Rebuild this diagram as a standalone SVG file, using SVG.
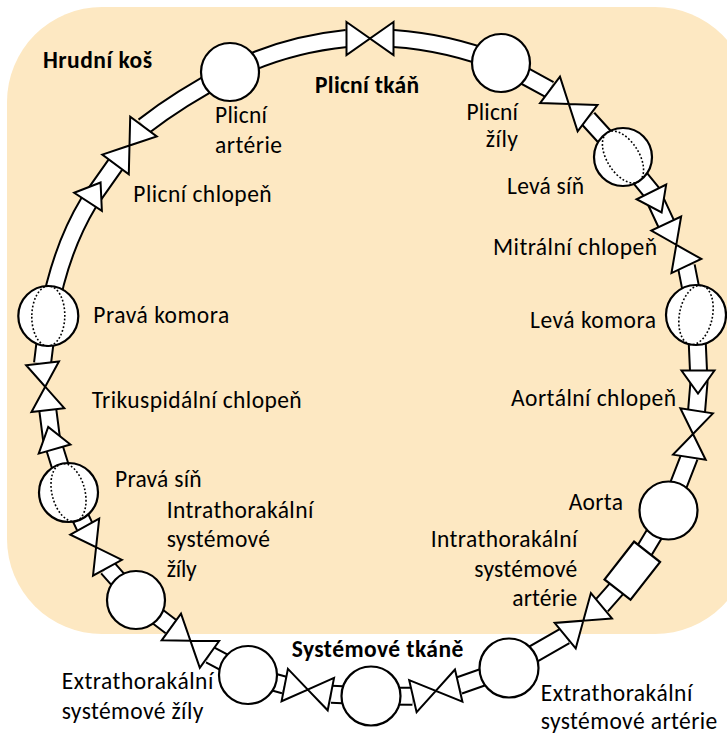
<svg xmlns="http://www.w3.org/2000/svg" width="727" height="734" viewBox="0 0 727 734">
<defs>
<style>
.bg{fill:#FDE8C2}
.po{fill:none;stroke:#000;stroke-width:19;stroke-linejoin:round}
.pi{fill:none;stroke:#fff;stroke-width:15;stroke-linejoin:round}
.n{fill:#fff;stroke:#000;stroke-width:2.2}
.dot{fill:none;stroke:#000;stroke-width:1.6;stroke-dasharray:1.8 2}
text{font-family:Carlito,Calibri,Lato,sans-serif;font-size:23.5px;fill:#000}
.b{font-weight:bold}
.e{text-anchor:end}
.m{text-anchor:middle}
</style>
<path id="bowtie" fill="#fff" stroke="#000" stroke-width="2" d="M-23.5,-16.5 L0,0 L-23.5,16.5 Z M23.5,-16.5 L0,0 L23.5,16.5 Z"/>
<path id="tri" fill="#fff" stroke="#000" stroke-width="2" d="M-11.5,-16.5 L11.5,0 L-11.5,16.5 Z"/>
</defs>
<rect class="bg" x="7" y="7" width="743" height="627" rx="95"/>
<text class="b" x="43" y="68" textLength="109">Hrudní koš</text>
<text class="b m" x="367" y="93" textLength="104">Plicní tkáň</text>
<text class="b m" x="377.5" y="656.7" textLength="171.6">Systémové tkáně</text>
<g id="connectors">
<path class="po" d="M143.7,126.3 Q180,98 230,72 Q283,45 346.5,38.5"/>
<path class="po" d="M393.5,38.5 Q447,42 501,63 L549.5,89.5"/>
<path class="po" d="M588,118.5 L623,157 L651.3,191.7 L666.2,223.7"/>
<path class="po" d="M686.3,266 L696,315 L699,382 L696.5,411.7"/>
<path class="po" d="M689.5,456.5 L668.5,510.5 L632.3,570.7 L601.5,605.7"/>
<path class="po" d="M565.2,635.7 L509,668 L459.2,685.5"/>
<path class="po" d="M412.5,696.3 L371,696 L331.3,694.2"/>
<path class="po" d="M284.2,685 L248,675 L210,654.8"/>
<path class="po" d="M170.8,626.5 L136,600 L107.5,567.8"/>
<path class="po" d="M84.7,526.5 L68.5,492.5 L51.4,438 L47.8,410"/>
<path class="po" d="M42.5,363.3 L48.3,316 Q60,250 88.7,202.5 L115.3,164.7"/>
<path class="pi" d="M143.7,126.3 Q180,98 230,72 Q283,45 346.5,38.5"/>
<path class="pi" d="M393.5,38.5 Q447,42 501,63 L549.5,89.5"/>
<path class="pi" d="M588,118.5 L623,157 L651.3,191.7 L666.2,223.7"/>
<path class="pi" d="M686.3,266 L696,315 L699,382 L696.5,411.7"/>
<path class="pi" d="M689.5,456.5 L668.5,510.5 L632.3,570.7 L601.5,605.7"/>
<path class="pi" d="M565.2,635.7 L509,668 L459.2,685.5"/>
<path class="pi" d="M412.5,696.3 L371,696 L331.3,694.2"/>
<path class="pi" d="M284.2,685 L248,675 L210,654.8"/>
<path class="pi" d="M170.8,626.5 L136,600 L107.5,567.8"/>
<path class="pi" d="M84.7,526.5 L68.5,492.5 L51.4,438 L47.8,410"/>
<path class="pi" d="M42.5,363.3 L48.3,316 Q60,250 88.7,202.5 L115.3,164.7"/>
<use href="#tri" transform="translate(656.5,202.2) rotate(63.6)"/>
<use href="#tri" transform="translate(698,382) rotate(90)"/>
<use href="#tri" transform="translate(51.4,438) rotate(-106)"/>
<use href="#tri" transform="translate(94.3,192.1) rotate(-57)"/>
<use href="#bowtie" transform="translate(370,38.5)"/>
<use href="#bowtie" transform="translate(568.8,104) rotate(37)"/>
<use href="#bowtie" transform="translate(583.3,620.7) rotate(140.4)"/>
<use href="#bowtie" transform="translate(435.8,690.9) rotate(-13)"/>
<use href="#bowtie" transform="translate(307.8,689.6) rotate(11.1)"/>
<use href="#bowtie" transform="translate(190.4,640.7) rotate(35.8)"/>
<use href="#bowtie" transform="translate(96.1,547.2) rotate(61.1)"/>
</g>
<g id="plicni-chlopen">
<use href="#bowtie" transform="translate(129.5,145.5) rotate(-53.5)"/>
<text x="133.3" y="201.7" textLength="138.4">Plicní chlopeň</text>
</g>
<g id="trikuspidalni-chlopen">
<use href="#bowtie" transform="translate(45.2,386.7) rotate(83.5)"/>
<text x="91.7" y="408.3" textLength="210">Trikuspidální chlopeň</text>
</g>
<g id="mitralni-chlopen">
<use href="#bowtie" transform="translate(676.3,244.8) rotate(64.6)"/>
<text class="e" x="657" y="255" textLength="164">Mitrální chlopeň</text>
</g>
<g id="aortalni-chlopen">
<use href="#bowtie" transform="translate(693,434) rotate(98.9)"/>
<text class="e" x="676" y="406" textLength="165">Aortální chlopeň</text>
</g>
<g id="plicni-arterie">
<circle class="n" cx="230" cy="72" r="29"/>
<text x="215" y="123" textLength="52">Plicní</text>
<text x="215" y="152.5" textLength="67">artérie</text>
</g>
<g id="plicni-zily">
<circle class="n" cx="501" cy="63" r="29"/>
<text class="e" x="518" y="119.5" textLength="51.6">Plicní</text>
<text class="e" x="518" y="147" textLength="32.3">žíly</text>
</g>
<g id="leva-sin">
<circle class="n" cx="623" cy="157" r="29"/>
<ellipse class="dot" cx="623" cy="157" rx="29" ry="16" transform="rotate(57.7 623 157)"/>
<text x="507" y="193.5" textLength="77">Levá síň</text>
</g>
<g id="leva-komora">
<circle class="n" cx="696" cy="315" r="30"/>
<ellipse class="dot" cx="696" cy="315" rx="30" ry="16.5" transform="rotate(101 696 315)"/>
<text class="e" x="656" y="327.5" textLength="126">Levá komora</text>
</g>
<g id="aorta">
<circle class="n" cx="668.5" cy="510.5" r="29"/>
<text class="e" x="623" y="510" textLength="54.3">Aorta</text>
</g>
<g id="intrathorakalni-arterie">
<rect class="n" x="-24" y="-16.5" width="48" height="33" transform="translate(632.3,570.7) rotate(128)"/>
<text class="e" x="577.3" y="547.3" textLength="146.6">Intrathorakální</text>
<text class="e" x="577.3" y="576.8" textLength="103">systémové</text>
<text class="e" x="577.3" y="606.3" textLength="65">artérie</text>
</g>
<g id="extrathorakalni-arterie">
<circle class="n" cx="509" cy="668" r="29.5"/>
<text x="540.7" y="701" textLength="151.6">Extrathorakální</text>
<text x="540.7" y="729" textLength="176.6">systémové artérie</text>
</g>
<g id="systemove-tkane">
<circle class="n" cx="371" cy="696" r="29.5"/>
</g>
<g id="extrathorakalni-zily">
<circle class="n" cx="248" cy="675" r="29"/>
<text x="61.7" y="689" textLength="151.6">Extrathorakální</text>
<text x="61.7" y="718.5" textLength="141.6">systémové žíly</text>
</g>
<g id="intrathorakalni-zily">
<circle class="n" cx="136" cy="600" r="29"/>
<text x="166.7" y="518" textLength="146.6">Intrathorakální</text>
<text x="166.7" y="547.3" textLength="103.3">systémové</text>
<text x="166.7" y="576.5" textLength="30">žíly</text>
</g>
<g id="prava-sin">
<circle class="n" cx="68.5" cy="492.5" r="29.5"/>
<ellipse class="dot" cx="68.5" cy="492.5" rx="29.5" ry="16.5" transform="rotate(76 68.5 492.5)"/>
<text x="115" y="487.3" textLength="86.7">Pravá síň</text>
</g>
<g id="prava-komora">
<circle class="n" cx="48.3" cy="316" r="30"/>
<ellipse class="dot" cx="48.3" cy="316" rx="30" ry="16.5" transform="rotate(91 48.3 316)"/>
<text x="93.3" y="323.3" textLength="136">Pravá komora</text>
</g>
</svg>
